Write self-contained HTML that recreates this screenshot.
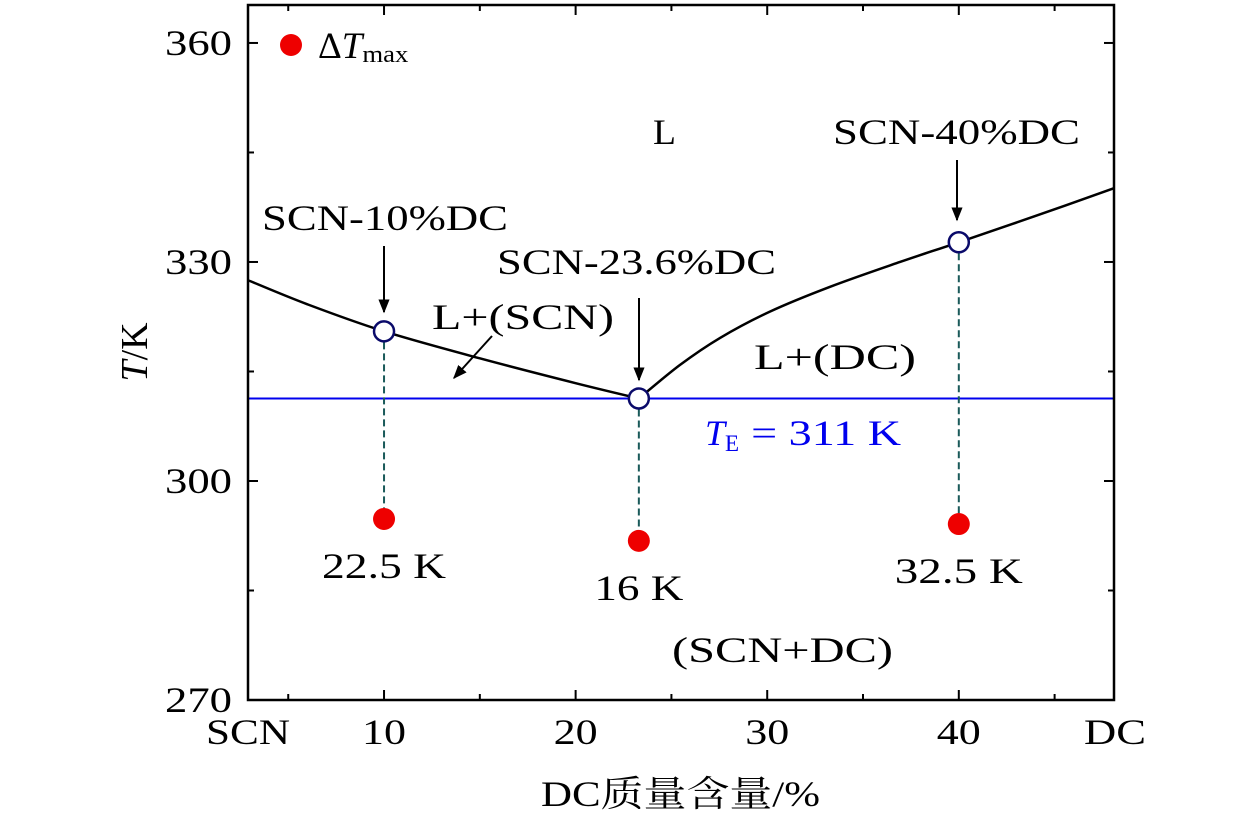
<!DOCTYPE html>
<html><head><meta charset="utf-8"><style>
body{margin:0;background:#fff}
svg text{font-family:"Liberation Serif","Noto Serif CJK SC",serif;}
</style></head><body>
<svg id="chart" width="1260" height="819" viewBox="0 0 1260 819" xmlns="http://www.w3.org/2000/svg">
<g id="g"></g>
</svg>
<script>
const xTicks=[10,20,30,40];
const xMinor=[5,15,25,35,45];
const yTicks=[270,300,330,360];
const yMinor=[285,315,345];
const liqLeftX=[2.9,6,10,15,20,23.3];
const liqLeftY=[327.5,324.2,320.5,316.8,313.4,311.3];
const liqRightX=[23.3,25.45,27.54,30.14,33.28,36.93,40,44,48.1];
const liqRightY=[311.3,315.9,319.6,323.2,326.6,330.0,332.7,336.3,340.1];
const compX=[10,23.3,40];
const liqT=[320.5,311.3,332.7];
const dTX=[10,23.3,40];
const dTY=[294.8,291.8,294.1];
const dTLabels=["22.5 K","16 K","32.5 K"];
const TE=311.3;
const X0=248,X1=1114,Y0=700,Y1=5;
const xmin=2.9,xmax=48.1,ymin=270,ymax=365.2;
const sx=v=>X0+(v-xmin)/(xmax-xmin)*(X1-X0);
const sy=v=>Y0-(v-ymin)/(ymax-ymin)*(Y0-Y1);
const g=document.getElementById('g');
const NS='http://www.w3.org/2000/svg';
const FS=36;
function mk(t,a,txt){const e=document.createElementNS(NS,t);for(const k in a)e.setAttribute(k,a[k]);if(txt!==undefined)e.textContent=txt;g.appendChild(e);return e;}
function smooth(xs,ys){const p=xs.map((v,i)=>[sx(v),sy(ys[i])]);let d='M'+p[0][0]+','+p[0][1];
for(let i=0;i<p.length-1;i++){const p0=p[Math.max(0,i-1)],p1=p[i],p2=p[i+1],p3=p[Math.min(p.length-1,i+2)];
const c1=[p1[0]+(p2[0]-p0[0])/6,p1[1]+(p2[1]-p0[1])/6],c2=[p2[0]-(p3[0]-p1[0])/6,p2[1]-(p3[1]-p1[1])/6];
d+=' C'+c1[0]+','+c1[1]+' '+c2[0]+','+c2[1]+' '+p2[0]+','+p2[1];}return d;}
let e;
const defs=document.createElementNS(NS,'defs');defs.innerHTML='<marker id="ah" viewBox="0 0 10 10" refX="9" refY="5" markerWidth="7" markerHeight="7" orient="auto"><path d="M0,1 L10,5 L0,9 z" fill="#000"/></marker>';g.appendChild(defs);
e=mk('line',{x1:X0,x2:X1,y1:sy(TE),y2:sy(TE),stroke:'#0000ee','stroke-width':2});

compX.forEach((c,i)=>{e=mk('line',{x1:sx(c),x2:sx(c),y1:sy(liqT[i]),y2:sy(dTY[i]),stroke:'#1a5a5a','stroke-width':2,'stroke-dasharray':'7,4'});
});
e=mk('path',{d:smooth(liqLeftX,liqLeftY),fill:'none',stroke:'#000','stroke-width':2.5});

e=mk('path',{d:smooth(liqRightX,liqRightY),fill:'none',stroke:'#000','stroke-width':2.5});

compX.forEach((c,i)=>{e=mk('circle',{cx:sx(c),cy:sy(liqT[i]),r:10,fill:'#fff',stroke:'#0a0a6a','stroke-width':2.5});
});
const dTW=[124,89,128];
dTX.forEach((c,i)=>{e=mk('circle',{cx:sx(c),cy:sy(dTY[i]),r:11,fill:'#ee0000'});

e=mk('text',{x:sx(c)-dTW[i]/2,y:sy(dTY[i])+59,'font-size':FS,textLength:dTW[i],lengthAdjust:'spacingAndGlyphs'},dTLabels[i]);
});
e=mk('rect',{x:X0,y:Y1,width:X1-X0,height:Y0-Y1,fill:'none',stroke:'#000','stroke-width':2.5});

xTicks.forEach(t=>{mk('line',{x1:sx(t),x2:sx(t),y1:Y0,y2:Y0-10,stroke:'#000','stroke-width':2});mk('line',{x1:sx(t),x2:sx(t),y1:Y1,y2:Y1+10,stroke:'#000','stroke-width':2});
e=mk('text',{x:sx(t)-22,y:Y0+44,'font-size':FS,textLength:44,lengthAdjust:'spacingAndGlyphs'},String(t));});
xMinor.forEach(t=>{mk('line',{x1:sx(t),x2:sx(t),y1:Y0,y2:Y0-6,stroke:'#000','stroke-width':2});mk('line',{x1:sx(t),x2:sx(t),y1:Y1,y2:Y1+6,stroke:'#000','stroke-width':2});});
e=mk('text',{x:206,y:Y0+44,'font-size':FS,textLength:84,lengthAdjust:'spacingAndGlyphs'},'SCN');
e=mk('text',{x:1084,y:Y0+44,'font-size':FS,textLength:62,lengthAdjust:'spacingAndGlyphs'},'DC');
yTicks.forEach(t=>{mk('line',{x1:X0,x2:X0+10,y1:sy(t),y2:sy(t),stroke:'#000','stroke-width':2});mk('line',{x1:X1,x2:X1-10,y1:sy(t),y2:sy(t),stroke:'#000','stroke-width':2});
e=mk('text',{x:165,y:sy(t)+12,'font-size':FS,textLength:67,lengthAdjust:'spacingAndGlyphs'},String(t));});
yMinor.forEach(t=>{mk('line',{x1:X0,x2:X0+6,y1:sy(t),y2:sy(t),stroke:'#000','stroke-width':2});mk('line',{x1:X1,x2:X1-6,y1:sy(t),y2:sy(t),stroke:'#000','stroke-width':2});});
e=mk('text',{x:541,y:806,'font-size':FS,textLength:279,lengthAdjust:'spacingAndGlyphs'},'DC质量含量/%');
e=mk('text',{x:0,y:0,'font-size':38,'text-anchor':'middle',transform:'translate(147,352) rotate(-90)'});
e.innerHTML='<tspan font-style="italic">T</tspan>/K';
function lab(x,y,w,t,n,extra){e=mk('text',Object.assign({x:x,y:y,'font-size':FS,textLength:w,lengthAdjust:'spacingAndGlyphs'},extra||{}),t);return e;}
lab(653,144,23,'L','region-l');
lab(833,144,247,'SCN-40%DC','label-40dc');
lab(262,230,246,'SCN-10%DC','label-10dc');
lab(497,274,279,'SCN-23.6%DC','label-23-6dc');
lab(432,329,182,'L+(SCN)','region-l-scn');
lab(754,369,162,'L+(DC)','region-l-dc');
lab(672,662,221,'(SCN+DC)','region-solid');
e=mk('text',{x:705,y:445,'font-size':FS,fill:'#0000ee'});
e.innerHTML='<tspan font-style="italic">T</tspan><tspan font-size="23" dy="6">E</tspan><tspan dy="-6" dx="12" textLength="150" lengthAdjust="spacingAndGlyphs">= 311  K</tspan>';
[[384,246,384,312],[639,298,639,380],[957,160,957,220],[492,336,454,378]].forEach(a=>{e=mk('line',{x1:a[0],y1:a[1],x2:a[2],y2:a[3],stroke:'#000','stroke-width':2,'marker-end':'url(#ah)'});});
e=mk('circle',{cx:291,cy:45,r:11,fill:'#ee0000'});
e=mk('text',{x:318,y:58,'font-size':37});
e.innerHTML='Δ<tspan font-style="italic">T</tspan><tspan font-size="24" dy="4" textLength="46" lengthAdjust="spacingAndGlyphs">max</tspan>';
</script>
</body></html>
